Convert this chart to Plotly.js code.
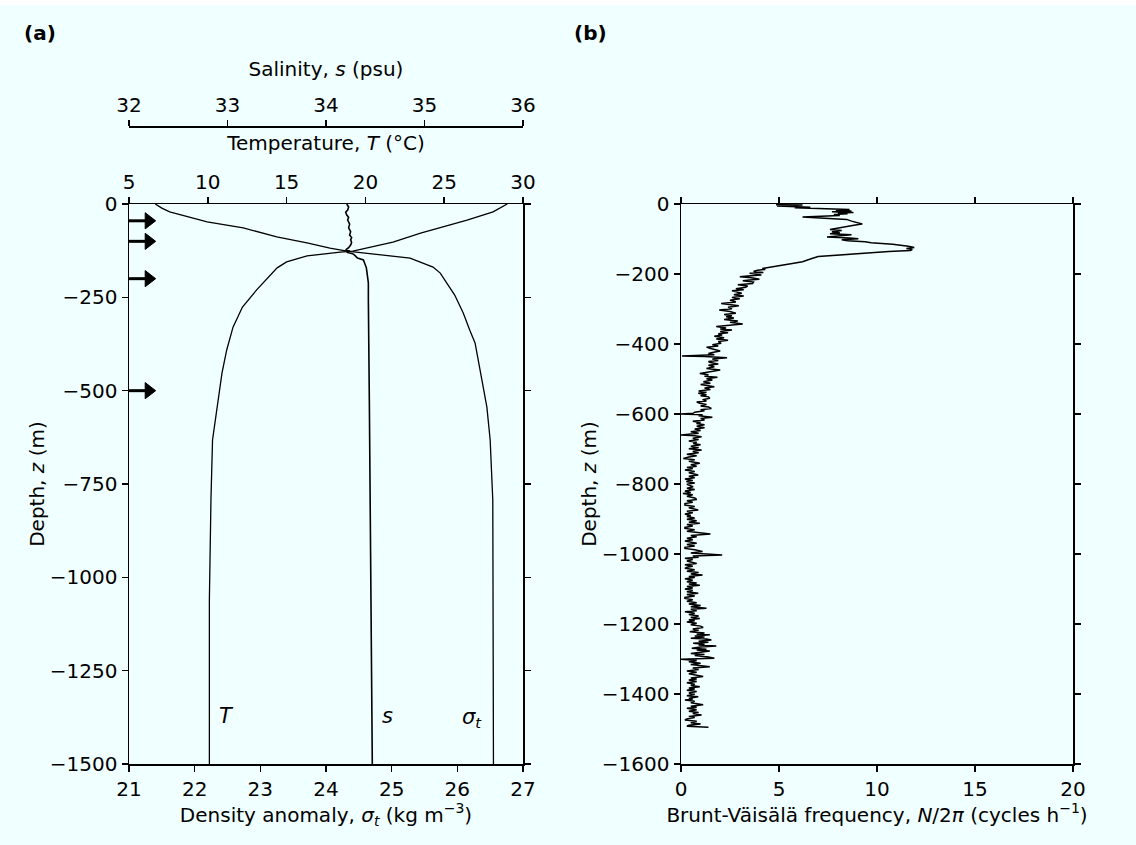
<!DOCTYPE html>
<html><head><meta charset="utf-8">
<script src="https://cdn.plot.ly/plotly-3.0.1.min.js"></script>
<style>html,body{margin:0;padding:0;background:#f0ffff;} #chart{width:1136px;height:845px;}</style>
</head><body><div id="chart"></div>
<script>
// ---- Panel (a) data ----
const tempDepth = [0,-21,-43,-62,-78,-102,-118,-126,-129,-139,-155,-171,-230,-276,-330,-391,-453,-544,-632,-793,-1061,-1500];
const tempVal   = [29.0,28.1,26.45,24.9,23.5,21.75,20.1,19.2,18.4,16.3,15.0,14.4,13.1,12.2,11.6,11.2,10.9,10.6,10.3,10.2,10.1,10.1];

const densDepth = [0,-11,-21,-48,-64,-88,-104,-118,-126,-145,-169,-185,-244,-292,-338,-372,-410,-472,-544,-632,-793,-1500];
const densVal   = [21.40,21.50,21.62,22.19,22.74,23.25,23.71,24.06,24.32,25.28,25.63,25.74,25.96,26.09,26.19,26.27,26.31,26.38,26.45,26.50,26.54,26.55];

const salDepth = [0,-8,-16,-22,-29,-36,-43,-54,-64,-74,-83,-90,-96,-103,-110,-117,-123,-126,-129,-133,-137,-145,-150,-171,-211,-257,-525,-1061,-1500];
const salVal   = [34.21,34.23,34.22,34.20,34.21,34.23,34.22,34.24,34.23,34.25,34.24,34.26,34.25,34.26,34.25,34.23,34.20,34.24,34.21,34.27,34.29,34.32,34.38,34.41,34.43,34.43,34.44,34.46,34.47];

const arrowDepths = [-45,-100,-200,-500];

const densTicks = [21,22,23,24,25,26,27];
const tempTicks = [5,10,15,20,25,30];
const salTicks  = [32,33,34,35,36];
const depthTicksA = [0,-250,-500,-750,-1000,-1250,-1500];

// ---- Panel (b) data: [depth (m), N/2pi (cycles/h)] ----
const nProfile = [
[-2,4.85],[-3,6.2],[-6,4.9],[-9,6.6],[-11,5.8],[-14,7.6],[-16,8.6],[-18,7.9],[-20,8.7],[-22,7.7],[-24,8.8],[-26,8.0],[-28,8.5],[-30,7.8],[-33,8.1],[-37,6.2],[-41,7.5],[-44,8.45],[-49,8.7],[-53,9.0],[-57,9.25],[-60,8.9],[-63,8.6],[-67,8.4],[-70,7.9],[-73,7.6],[-76,8.2],[-79,7.7],[-82,8.1],[-85,7.6],[-88,8.7],[-91,7.8],[-94,7.45],[-97,8.6],[-99,9.05],[-102,8.2],[-105,8.5],[-108,9.4],[-111,9.7],[-115,10.8],[-118,11.3],[-121,11.6],[-124,11.9],[-127,11.5],[-130,11.8],[-133,11.7],[-136,10.6],[-139,9.7],[-143,8.8],[-146,8.05],[-150,7.0],[-157,6.6],[-165,6.2],[-171,5.6],[-177,5.0],[-181,4.5],[-184,4.15],[-187,4.3],[-189,3.9],[-193,3.7],[-196,4.2],[-198,3.5],[-201,3.9],[-203,4.1],[-206,3.4],[-208,3.0],[-211,3.6],[-215,4.0],[-217,3.5],[-219,3.15],[-223,3.7],[-227,3.65],[-229,3.2],[-231,2.9],[-234,3.4],[-238,3.3],[-242,2.8],[-245,3.2],[-248,2.6],[-252,3.0],[-255,3.1],[-259,2.7],[-263,3.2],[-267,2.6],[-271,3.0],[-275,2.5],[-280,2.8],[-284,2.05],[-288,2.7],[-291,2.95],[-295,2.4],[-299,2.6],[-303,1.95],[-307,2.5],[-312,2.8],[-316,2.2],[-319,2.6],[-322,2.3],[-326,2.7],[-330,2.2],[-334,2.9],[-338,2.5],[-343,3.15],[-346,2.4],[-350,1.8],[-354,2.3],[-357,2.0],[-360,2.6],[-364,2.0],[-368,2.4],[-371,1.9],[-374,2.1],[-378,1.7],[-382,2.2],[-386,1.8],[-389,2.4],[-393,1.9],[-398,2.05],[-402,1.6],[-406,1.9],[-409,1.3],[-412,1.47],[-416,1.8],[-420,2.0],[-424,1.6],[-427,1.4],[-431,1.7],[-434,0.05],[-436,1.2],[-439,2.35],[-443,1.6],[-447,1.9],[-450,1.4],[-453,1.5],[-457,1.9],[-461,1.4],[-465,1.7],[-470,1.3],[-474,2.0],[-478,1.5],[-481,1.1],[-484,0.96],[-488,1.4],[-492,1.2],[-495,1.86],[-499,1.3],[-503,1.6],[-508,1.14],[-512,1.5],[-516,1.0],[-519,1.4],[-522,1.7],[-526,1.2],[-530,1.5],[-534,0.9],[-538,1.3],[-541,0.88],[-545,1.3],[-548,1.0],[-551,1.4],[-555,1.47],[-559,1.1],[-563,1.3],[-566,0.8],[-569,0.96],[-573,1.3],[-577,1.0],[-580,1.4],[-584,1.55],[-588,1.0],[-591,1.2],[-595,0.7],[-598,0.62],[-600,0.0],[-602,1.1],[-605,0.9],[-609,1.6],[-613,1.0],[-617,1.2],[-621,0.6],[-624,1.0],[-627,0.79],[-631,1.2],[-635,0.8],[-639,1.2],[-643,0.7],[-647,1.0],[-651,0.5],[-655,0.9],[-660,0.0],[-662,0.7],[-665,1.05],[-669,0.6],[-673,0.9],[-677,0.4],[-681,0.8],[-684,0.62],[-688,1.0],[-692,0.5],[-696,0.9],[-699,0.4],[-703,1.05],[-707,0.6],[-711,0.9],[-715,0.3],[-719,0.8],[-723,0.4],[-727,0.12],[-731,0.7],[-735,0.4],[-741,0.96],[-745,0.5],[-749,0.8],[-753,0.3],[-756,0.6],[-760,0.2],[-764,0.7],[-768,0.4],[-774,0.88],[-778,0.4],[-782,0.7],[-786,0.2],[-790,0.6],[-793,0.27],[-797,0.7],[-801,0.3],[-808,0.62],[-812,0.3],[-816,0.7],[-820,0.2],[-824,0.5],[-827,0.1],[-831,0.6],[-835,0.3],[-840,0.7],[-844,0.8],[-848,0.3],[-852,0.6],[-856,0.2],[-860,0.2],[-864,0.7],[-868,0.4],[-874,0.88],[-878,0.3],[-882,0.6],[-886,0.2],[-890,0.5],[-893,0.3],[-897,0.7],[-901,0.3],[-905,0.8],[-909,0.4],[-912,0.96],[-916,0.3],[-920,0.6],[-924,0.2],[-927,0.2],[-931,0.7],[-935,0.3],[-939,0.9],[-943,1.5],[-947,0.5],[-951,0.8],[-955,0.3],[-959,0.6],[-963,0.2],[-966,0.6],[-969,0.8],[-973,0.3],[-977,0.7],[-981,0.2],[-984,0.2],[-988,0.7],[-993,1.1],[-997,0.5],[-1000,1.4],[-1003,2.1],[-1006,0.6],[-1009,0.9],[-1012,0.2],[-1016,0.6],[-1020,0.3],[-1024,0.7],[-1027,0.8],[-1031,0.2],[-1035,0.6],[-1038,0.3],[-1041,0.2],[-1045,0.7],[-1049,0.3],[-1053,0.9],[-1057,0.5],[-1060,1.1],[-1064,0.4],[-1067,0.7],[-1071,0.2],[-1075,0.6],[-1079,0.3],[-1083,0.8],[-1086,0.4],[-1089,0.96],[-1093,0.3],[-1097,0.6],[-1100,0.2],[-1104,0.6],[-1108,0.3],[-1112,0.88],[-1116,0.3],[-1120,0.7],[-1124,0.2],[-1127,0.2],[-1131,0.6],[-1135,0.3],[-1139,0.8],[-1143,0.4],[-1147,1.0],[-1151,0.5],[-1155,1.3],[-1158,0.5],[-1162,0.8],[-1165,0.2],[-1169,0.7],[-1173,0.4],[-1177,0.9],[-1181,0.5],[-1184,0.96],[-1188,0.4],[-1191,0.7],[-1194,0.3],[-1198,0.8],[-1202,0.5],[-1206,1.0],[-1210,1.13],[-1214,0.6],[-1218,0.9],[-1222,0.45],[-1226,1.2],[-1229,0.8],[-1231,1.47],[-1234,0.7],[-1237,1.2],[-1241,0.5],[-1243,1.3],[-1246,1.55],[-1249,0.9],[-1252,1.4],[-1255,0.62],[-1258,1.2],[-1260,0.9],[-1263,1.8],[-1266,1.0],[-1269,0.55],[-1272,1.3],[-1274,0.8],[-1277,1.47],[-1280,0.9],[-1284,0.5],[-1287,1.2],[-1290,0.7],[-1294,1.4],[-1298,1.7],[-1301,0.0],[-1304,0.8],[-1308,0.4],[-1312,1.0],[-1316,0.5],[-1322,1.47],[-1326,0.6],[-1330,0.9],[-1334,0.3],[-1338,0.8],[-1342,0.4],[-1346,0.9],[-1350,1.13],[-1354,0.5],[-1357,0.8],[-1360,0.4],[-1364,0.8],[-1368,0.3],[-1372,0.7],[-1376,0.5],[-1379,0.96],[-1383,0.4],[-1386,0.7],[-1389,0.3],[-1393,0.8],[-1397,0.4],[-1401,0.7],[-1405,0.3],[-1408,0.88],[-1412,0.4],[-1414,0.6],[-1417,0.2],[-1421,0.7],[-1425,0.5],[-1431,1.13],[-1435,0.5],[-1438,0.8],[-1441,0.3],[-1445,0.8],[-1449,0.4],[-1453,0.9],[-1456,0.6],[-1460,1.05],[-1464,0.4],[-1467,0.7],[-1471,0.3],[-1474,0.2],[-1478,0.8],[-1482,0.5],[-1486,1.0],[-1489,0.4],[-1492,0.3],[-1495,1.4]
];
const nDepth = nProfile.map(p => p[0]);
const nFreq  = nProfile.map(p => p[1]);

const nTicks = [0,5,10,15,20];
const depthTicksB = [0,-200,-400,-600,-800,-1000,-1200,-1400,-1600];

// ---- geometry helpers (pixel -> paper) ----
const W = 1136, H = 845;
const PX = v => v / W;
const PY = v => 1 - v / H;

const FONT = 'DejaVu Sans, Verdana, sans-serif';
const line = {color:'#000', width:1.3};

// arrows along the depth axis (shaft + triangular head)
const arrX = [], arrY = [], arrSize = [];
arrowDepths.forEach(d => { arrX.push(21.0, 21.30, null); arrY.push(d, d, null); arrSize.push(0, 14, 0); });

const traces = [
  {x: densVal, y: densDepth, xaxis:'x', yaxis:'y', mode:'lines', line:line, hoverinfo:'skip'},
  {x: tempVal, y: tempDepth, xaxis:'x2', yaxis:'y', mode:'lines', line:line, hoverinfo:'skip'},
  {x: salVal,  y: salDepth,  xaxis:'x3', yaxis:'y', mode:'lines', line:{color:'#000', width:1.6}, hoverinfo:'skip'},
  {x: arrX, y: arrY, xaxis:'x', yaxis:'y', mode:'lines+markers', line:{color:'#000', width:3},
   marker:{symbol:'triangle-right', size:arrSize, color:'#000', opacity:1, line:{width:1, color:'#000'}}, cliponaxis:false, hoverinfo:'skip'},
  {x: nFreq,   y: nDepth,    xaxis:'x4', yaxis:'y2', mode:'lines', line:{color:'#000', width:1.5}, hoverinfo:'skip'}
];

const axBase = {
  showline:true, linecolor:'#000', linewidth:1.5, showgrid:false, zeroline:false,
  ticks:'outside', ticklen:6, tickwidth:1.5, tickcolor:'#000',
  tickfont:{family:FONT, size:20, color:'#000'}
};
const titleFont = {family:FONT, size:20, color:'#000'};

const annotations = [
  {x:22.49, y:-1371, xref:'x', yref:'y', text:'<i>T</i>', showarrow:false, font:{family:FONT, size:21, color:'#000'}},
  {x:24.93, y:-1371, xref:'x', yref:'y', text:'<i>s</i>', showarrow:false, font:{family:FONT, size:21, color:'#000'}},
  {x:26.22, y:-1378, xref:'x', yref:'y', text:'<i>σ</i><sub><i>t</i></sub>', showarrow:false, font:{family:FONT, size:21, color:'#000'}},
  {x:PX(40), y:PY(33), xref:'paper', yref:'paper', xanchor:'center', yanchor:'middle', text:'<b>(a)</b>', showarrow:false, font:{family:FONT, size:20, color:'#000'}},
  {x:PX(591), y:PY(33), xref:'paper', yref:'paper', xanchor:'center', yanchor:'middle', text:'<b>(b)</b>', showarrow:false, font:{family:FONT, size:20, color:'#000'}}
];

const layout = {
  width: W, height: H,
  margin:{l:0, r:0, t:0, b:0},
  paper_bgcolor:'#f0ffff', plot_bgcolor:'#f0ffff',
  showlegend:false,
  font:{family:FONT, size:20, color:'#000'},
  xaxis: Object.assign({}, axBase, {
    domain:[PX(129), PX(523)], anchor:'y', range:[21,27], tickvals:densTicks,
    title:{text:'Density anomaly, <i>σ</i><sub><i>t</i></sub> (kg m<sup>−3</sup>)', font:titleFont, standoff:3}
  }),
  xaxis2: Object.assign({}, axBase, {
    overlaying:'x', side:'top', anchor:'y', range:[5,30], tickvals:tempTicks,
    title:{text:'Temperature, <i>T</i> (°C)', font:titleFont, standoff:13}
  }),
  xaxis3: Object.assign({}, axBase, {
    overlaying:'x', side:'top', anchor:'free', position:PY(126), range:[32,36], tickvals:salTicks,
    title:{text:'Salinity, <i>s</i> (psu)', font:titleFont, standoff:9}
  }),
  yaxis: Object.assign({}, axBase, {
    domain:[PY(764), PY(204)], anchor:'x', range:[-1500,0], tickvals:depthTicksA, mirror:'ticks',
    title:{text:'Depth, <i>z</i> (m)', font:titleFont, standoff:0}
  }),
  xaxis4: Object.assign({}, axBase, {
    domain:[PX(681), PX(1073)], anchor:'y2', range:[0,20], tickvals:nTicks, mirror:'ticks',
    title:{text:'Brunt-Väisälä frequency, <i>N</i>/2<i>π</i> (cycles h<sup>−1</sup>)', font:titleFont, standoff:3}
  }),
  yaxis2: Object.assign({}, axBase, {
    domain:[PY(764), PY(204)], anchor:'x4', range:[-1600,0], tickvals:depthTicksB, mirror:'ticks',
    title:{text:'Depth, <i>z</i> (m)', font:titleFont, standoff:0}
  }),
  shapes:[
    {type:'rect', xref:'paper', yref:'paper', x0:0, x1:1, y0:PY(5), y1:1, fillcolor:'#ffffff', line:{width:0}, layer:'below'}
  ],
  annotations: annotations
};

Plotly.newPlot('chart', traces, layout, {displayModeBar:false, staticPlot:true});
</script></body></html>
